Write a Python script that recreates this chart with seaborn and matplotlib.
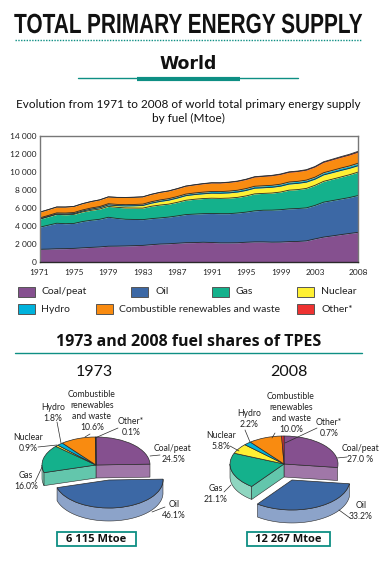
'''
World total primary energy supply by fuel
- stacked area 1971-2008
- two tilted pies, 1973 and 2008 shares
'''

import numpy as np
import pandas as pd
import matplotlib.pyplot as plt
import matplotlib.patheffects as pe
from matplotlib.patches import Polygon, Rectangle
from matplotlib.transforms import Affine2D
import seaborn as sns

# Mtoe by fuel
years = list(range(1971, 2009))
coal = [1440, 1460, 1500, 1510, 1540, 1600, 1650, 1700, 1780, 1790, 1810, 1840, 1870, 1950, 2020, 2050, 2110, 2170, 2180,
        2220, 2190, 2150, 2150, 2160, 2220, 2260, 2260, 2230, 2240, 2290, 2310, 2370, 2590, 2790, 2920, 3060, 3190, 3312]
oil = [2440, 2640, 2820, 2760, 2760, 2910, 3000, 3060, 3200, 3060, 2950, 2900, 2850, 2880, 2890, 2950, 3020, 3110, 3150,
       3160, 3210, 3230, 3230, 3290, 3330, 3430, 3500, 3540, 3580, 3620, 3640, 3650, 3700, 3860, 3900, 3930, 3970, 4072]
gas = [890, 930, 978, 990, 1000, 1060, 1100, 1130, 1200, 1230, 1250, 1260, 1270, 1370, 1420, 1430, 1500, 1580, 1640,
       1670, 1690, 1690, 1720, 1730, 1790, 1880, 1860, 1890, 1950, 2070, 2090, 2150, 2220, 2300, 2370, 2440, 2520, 2588]
nuclear = [30, 40, 55, 70, 85, 100, 130, 150, 165, 185, 220, 250, 290, 340, 400, 440, 470, 510, 520,
           525, 555, 560, 575, 590, 605, 625, 625, 635, 650, 675, 690, 695, 680, 715, 720, 730, 710, 711]
hydro = [100, 105, 110, 118, 120, 120, 125, 130, 135, 140, 145, 148, 155, 160, 165, 170, 170, 175, 175,
         185, 190, 190, 200, 200, 210, 215, 220, 220, 220, 225, 222, 225, 225, 240, 250, 258, 264, 270]
renewables = [630, 640, 648, 660, 670, 690, 710, 730, 750, 770, 790, 790, 800, 810, 830, 840, 860, 870, 890,
              920, 940, 950, 960, 980, 1000, 1020, 1040, 1060, 1080, 1080, 1090, 1100, 1120, 1150, 1170, 1190, 1210, 1227]
other = [5, 5, 6, 6, 6, 7, 7, 7, 8, 8, 9, 10, 11, 13, 15, 17, 19, 20, 22,
         25, 27, 28, 30, 32, 34, 36, 38, 40, 42, 45, 48, 50, 55, 60, 65, 70, 78, 86]

fuels = ['Coal/peat', 'Oil', 'Gas', 'Nuclear', 'Hydro', 'Combustible renewables and waste', 'Other*']
shares_1973 = [24.5, 46.1, 16.0, 0.9, 1.8, 10.6, 0.1]
shares_2008 = [27.0, 33.2, 21.1, 5.8, 2.2, 10.0, 0.7]

x_tick_labels = ['1971', '1975', '1979', '1983', '1987', '1991', '1995', '1999', '2003', '2008']
y_tick_labels = ['0', '2 000', '4 000', '6 000', '8 000', '10 000', '12 000', '14 000']

colors = ['#85508F', '#3C68A5', '#14B18C', '#FFF033', '#00B2DC', '#F98B10', '#EE3231']
TEAL = '#0E8F84'
DARK = '#2A2A2A'
W, H = 387, 562


class TallText(pe.AbstractPathEffect):
    # The poster title is a tall condensed face, so stretch glyphs up from the baseline
    def __init__(self, baseline, factor):
        super().__init__()
        self.baseline = baseline
        self.factor = factor

    def draw_path(self, renderer, gc, tpath, affine, rgbFace=None):
        stretch = Affine2D().translate(0, -self.baseline).scale(1, self.factor).translate(0, self.baseline)
        renderer.draw_path(gc, tpath, affine + stretch, rgbFace)


sns.set_theme(style='white')
plt.rcParams['font.family'] = ['Lato', 'DejaVu Sans']

fig = plt.figure(figsize=(W / 100, H / 100), dpi=100)

# Overlay in pixel coordinates for the headings, legend and pie captions
page = fig.add_axes([0, 0, 1, 1], zorder=5)
page.set_xlim(0, W)
page.set_ylim(H, 0)
page.axis('off')

title = page.text(188.5, 33, 'TOTAL PRIMARY ENERGY SUPPLY', ha='center', va='baseline', fontsize=15,
                  fontweight='bold', family='Liberation Sans', color='#111111')
title.set_path_effects([TallText(H - 33, 1.33)])
page.plot([15, 362], [40, 40], color=TEAL, lw=1, ls=(0, (1, 1)))
page.text(188, 64, 'World', ha='center', va='center', fontsize=12.5, fontweight='bold',
          family='DejaVu Sans', color='#111111')
page.plot([78, 298], [78, 78], color=TEAL, lw=1)
page.plot([137, 240], [79, 79], color=TEAL, lw=3, solid_capstyle='butt')
page.text(188, 105, 'Evolution from 1971 to 2008 of world total primary energy supply', ha='center', va='center',
          fontsize=8.5, color='#111111')
page.text(188, 118, 'by fuel (Mtoe)', ha='center', va='center', fontsize=8.5, color='#111111')

# Stacked area
stack = np.array([coal, oil, gas, nuclear, hydro, renewables, other])
ax = fig.add_axes([39.5 / W, 1 - 262.3 / H, 318.5 / W, 126.6 / H])
ax.stackplot(years, stack, colors=colors, lw=0)
tops = pd.DataFrame(np.cumsum(stack, axis=0).T, columns=fuels)
tops['year'] = years
tops = tops.melt(id_vars='year', var_name='fuel', value_name='mtoe')
sns.lineplot(data=tops, x='year', y='mtoe', units='fuel', estimator=None, color=DARK, lw=0.6, ax=ax)
ax.set_xlim(1971, 2008)
ax.set_ylim(0, 14000)
ax.set_xlabel('')
ax.set_ylabel('')
ax.set_xticks(years)
ax.set_xticklabels([str(y) if str(y) in x_tick_labels else '' for y in years], fontsize=6, color='#222222')
ax.set_yticks(range(0, 14001, 2000))
ax.set_yticklabels(y_tick_labels, fontsize=6, color='#222222')
ax.tick_params(axis='x', direction='in', length=3, width=0.6, color=DARK, bottom=True, pad=5)
ax.tick_params(axis='y', length=0, pad=2)
for spine in ax.spines.values():
    spine.set_color('#777777')
    spine.set_linewidth(1)
ax.spines['bottom'].set_color(DARK)

# Legend
legend_rows = [(18, 41, 292), (131, 155, 292), (212, 236, 292), (297, 321, 292),
               (18, 41, 309), (96, 119, 309), (297, 321, 309)]
for name, col, (bx, tx, y) in zip(fuels, colors, legend_rows):
    page.add_patch(Rectangle((bx, y - 5), 17, 10, fc=col, ec='#555555', lw=0.7))
    page.text(tx, y, name, va='center', fontsize=7.5, color='#222222')

page.text(189, 342, '1973 and 2008 fuel shares of TPES', ha='center', va='center', fontsize=11.5,
          fontweight='bold', family='Open Sans', color='#111111')
page.plot([15, 362], [353, 353], color=TEAL, lw=1)


def draw_pie(shares, cx, cy, rx, ry, depth, oil_shift, oil_scale):
    # Unit circle squeezed into an ellipse by the axes' own size
    ax = fig.add_axes([(cx - 1.7 * rx) / W, 1 - (cy + 2.2 * ry) / H, 3.4 * rx / W, 3.6 * ry / H], zorder=3)
    wedges, _ = ax.pie(shares, colors=colors, startangle=90, counterclock=False,
                       wedgeprops={'edgecolor': DARK, 'linewidth': 0.5})
    ax.set_aspect('auto')
    ax.set_xlim(-1.7, 1.7)
    ax.set_ylim(-2.2, 1.4)
    ax.axis('off')
    dz = depth / ry
    edges = 90 - 3.6 * np.concatenate([[0], np.cumsum(shares)])
    for w in wedges:
        w.set_zorder(3)

    def rim(a, b, dx=0, dy=0, r=1):
        t = np.radians(np.linspace(a, b, 60))
        top = np.c_[dx + r * np.cos(t), dy + r * np.sin(t)]
        return np.r_[top, top[::-1] - [0, dz]]

    # Cut faces left open by the pulled-out oil slice
    for edge, col in [(edges[1], '#A077A8'), (edges[2], '#63C6AC')]:
        c, s = np.cos(np.radians(edge)), np.sin(np.radians(edge))
        ax.add_patch(Polygon([(0, 0), (c, s), (c, s - dz), (0, -dz)], fc=col, ec=DARK, lw=0.4, zorder=2))

    # Outer wall of the gas slice, only its front part shows
    ax.add_patch(Polygon(rim(edges[2], -180), fc='#8FD6C0', ec=DARK, lw=0.4, zorder=1))

    # Pulled-out oil slice and its wall
    sx, sy = oil_shift[0] / rx, -oil_shift[1] / ry
    wedges[1].set_center((sx, sy))
    wedges[1].set_radius(oil_scale)
    wedges[1].set_zorder(6)
    ax.add_patch(Polygon(rim(edges[1], edges[2], sx, sy, oil_scale), fc='#8CA3C9', ec=DARK, lw=0.4, zorder=5))


draw_pie(shares_1973, 96, 465, 54, 28, 13, (13, 15), 1.0)
draw_pie(shares_2008, 284, 464, 54, 28, 13, (8, 16), 1.07)

page.text(94, 372, '1973', ha='center', va='center', fontsize=11.5, color='#111111')
page.text(289, 372, '2008', ha='center', va='center', fontsize=11.5, color='#111111')

# Pie captions: centre of the text block, then its leader line
captions = [
    ('Combustible\nrenewables\nand waste\n10.6%', 92, 411, (90, 434, 85, 437)),
    ('Hydro\n1.8%', 53, 413, (57, 422, 61, 443)),
    ('Other*\n0.1%', 131, 427, (118, 428, 95, 438)),
    ('Nuclear\n0.9%', 28, 443, (38, 447, 57, 445)),
    ('Coal/peat\n24.5%', 173, 454, (150, 456, 160, 455)),
    ('Gas\n16.0%', 26, 481, (35, 482, 42, 467)),
    ('Oil\n46.1%', 174, 510, (152, 512, 165, 507)),
    ('Combustible\nrenewables\nand waste\n10.0%', 291, 413, (275, 433, 272, 438)),
    ('Hydro\n2.2%', 249, 419, (245, 430, 250, 442)),
    ('Other*\n0.7%', 329, 428, (317, 428, 285, 443)),
    ('Nuclear\n5.8%', 221, 441, (230, 446, 239, 451)),
    ('Coal/peat\n27.0 %', 360, 454, (337, 458, 347, 457)),
    ('Gas\n21.1%', 216, 494, (224, 492, 231, 485)),
    ('Oil\n33.2%', 361, 511, (339, 510, 350, 518)),
]
for label, x, y, (x0, y0, x1, y1) in captions:
    page.text(x, y, label, ha='center', va='center', fontsize=6.2, color='#222222', linespacing=1.25)
    page.plot([x0, x1], [y0, y1], color=DARK, lw=0.5)

for label, x0, x1 in [('6 115 Mtoe', 57, 136), ('12 267 Mtoe', 247, 330)]:
    page.add_patch(Rectangle((x0, 532), x1 - x0, 14, fc='white', ec=TEAL, lw=1.3))
    page.text((x0 + x1) / 2, 539, label, ha='center', va='center', fontsize=8, fontweight='bold',
              family='Open Sans', color='#111111')

fig.savefig('out.png', dpi=100)
